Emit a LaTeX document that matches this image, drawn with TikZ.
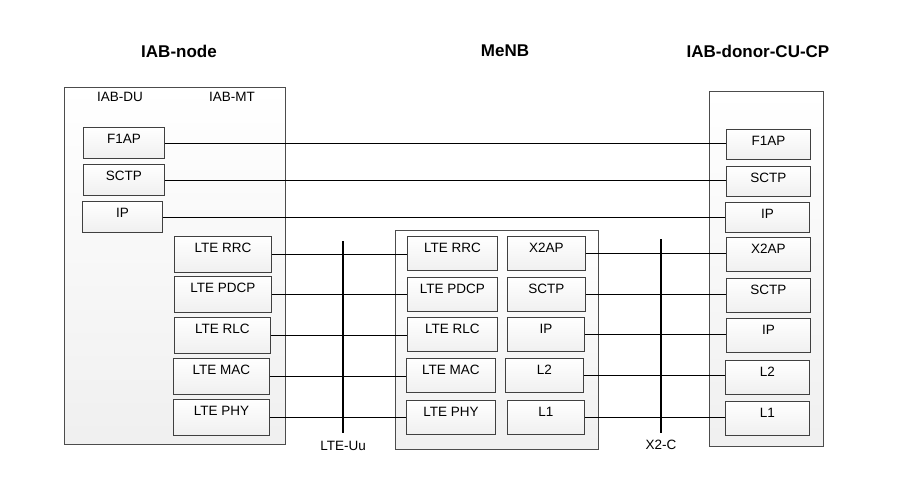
\documentclass[tikz,border=0pt]{standalone}
\usepackage{fontspec}
\setmainfont{Liberation Sans}
\begin{document}
\begin{tikzpicture}[x=1pt, y=-1pt,
    host/.style={draw=black!70, line width=0.8pt, top color=white, bottom color=gray!12, anchor=north west, inner sep=0pt},
    layer/.style={draw=black!75, line width=0.8pt, top color=white, bottom color=gray!12, anchor=north west,
        font=\fontsize{13.5}{15}\selectfont, inner xsep=0pt, inner ysep=5pt, text height=11pt, text depth=#1},
    layer/.default=10pt,
    link/.style={line width=0.8pt},
    iface/.style={line width=1.8pt},
    title/.style={font=\bfseries\fontsize{17}{20}\selectfont},
    tag/.style={font=\fontsize{13.5}{15}\selectfont}]
        \useasboundingbox (0,0) rectangle (912,479);

        % Titles
        \node[title] (nodeTitle) at (179,51) {IAB-node};
        \node[title] (menbTitle) at (505,51) {MeNB};
        \node[title] (donorTitle) at (758,51) {IAB-donor-CU-CP};

        % Outer boxes
        \node[host, minimum width=221, minimum height=357] (iab) at (64,87) {};
        \node[host, minimum width=203, minimum height=219] (menb) at (395,230) {};
        \node[host, minimum width=114, minimum height=355] (donor) at (709,91) {};

        \node[tag] (duTag) at (120,97) {IAB-DU};
        \node[tag] (mtTag) at (232,97) {IAB-MT};

        % IAB-DU stack
        \node[layer, minimum width=81] (duF1ap) at (83,127) {F1AP};
        \node[layer, minimum width=81] (duSctp) at (83,164) {SCTP};
        \node[layer, minimum width=80] (duIp) at (82,201) {IP};

        % IAB-MT stack
        \node[layer=15pt, minimum width=97] (mtRrc) at (174,236) {LTE RRC};
        \node[layer=15pt, minimum width=97] (mtPdcp) at (174,276) {LTE PDCP};
        \node[layer=15pt, minimum width=96] (mtRlc) at (174,317) {LTE RLC};
        \node[layer=15pt, minimum width=96] (mtMac) at (173,358) {LTE MAC};
        \node[layer=15pt, minimum width=96] (mtPhy) at (173,399) {LTE PHY};

        % MeNB stacks
        \node[layer=13pt, minimum width=90] (enbRrc) at (407,236) {LTE RRC};
        \node[layer=13pt, minimum width=90] (enbPdcp) at (407,277) {LTE PDCP};
        \node[layer=13pt, minimum width=90] (enbRlc) at (407,317) {LTE RLC};
        \node[layer=13pt, minimum width=89] (enbMac) at (406,358) {LTE MAC};
        \node[layer=13pt, minimum width=89] (enbPhy) at (406,400) {LTE PHY};
        \node[layer=13pt, minimum width=78] (enbX2ap) at (507,236) {X2AP};
        \node[layer=13pt, minimum width=78] (enbSctp) at (507,277) {SCTP};
        \node[layer=13pt, minimum width=77] (enbIp) at (507,317) {IP};
        \node[layer=13pt, minimum width=78] (enbL2) at (505,358) {L2};
        \node[layer=13pt, minimum width=77] (enbL1) at (507,400) {L1};

        % IAB-donor-CU-CP stack
        \node[layer=9pt, minimum width=84] (cuF1ap) at (726,129) {F1AP};
        \node[layer=9pt, minimum width=84] (cuSctp) at (726,166) {SCTP};
        \node[layer=9pt, minimum width=84] (cuIp) at (725,202) {IP};
        \node[layer=13pt, minimum width=84] (cuX2ap) at (726,237) {X2AP};
        \node[layer=13pt, minimum width=84] (cuSctpB) at (726,278) {SCTP};
        \node[layer=13pt, minimum width=84] (cuIpB) at (726,318) {IP};
        \node[layer=13pt, minimum width=84] (cuL2) at (725,360) {L2};
        \node[layer=13pt, minimum width=84] (cuL1) at (725,401) {L1};

        % Peer links
        \foreach \a/\b in {duF1ap/cuF1ap, duSctp/cuSctp, duIp/cuIp,
                mtRrc/enbRrc, mtPdcp/enbPdcp, mtRlc/enbRlc, mtMac/enbMac, mtPhy/enbPhy,
                enbX2ap/cuX2ap, enbSctp/cuSctpB, enbIp/cuIpB, enbL2/cuL2, enbL1/cuL1}
            \draw[link] (\a.east) -- (\a.east -| \b.west);

        % Interfaces
        \coordinate (uuTop) at (343,241);
        \coordinate (uuBot) at (343,433);
        \draw[iface] (uuTop) -- (uuBot);
        \node[tag] (uuTag) at (343,446) {LTE-Uu};

        \coordinate (xTop) at (661,239);
        \coordinate (xBot) at (661,433);
        \draw[iface] (xTop) -- (xBot);
        \node[tag] (xTag) at (661,445) {X2-C};
    \end{tikzpicture}
\end{document}
